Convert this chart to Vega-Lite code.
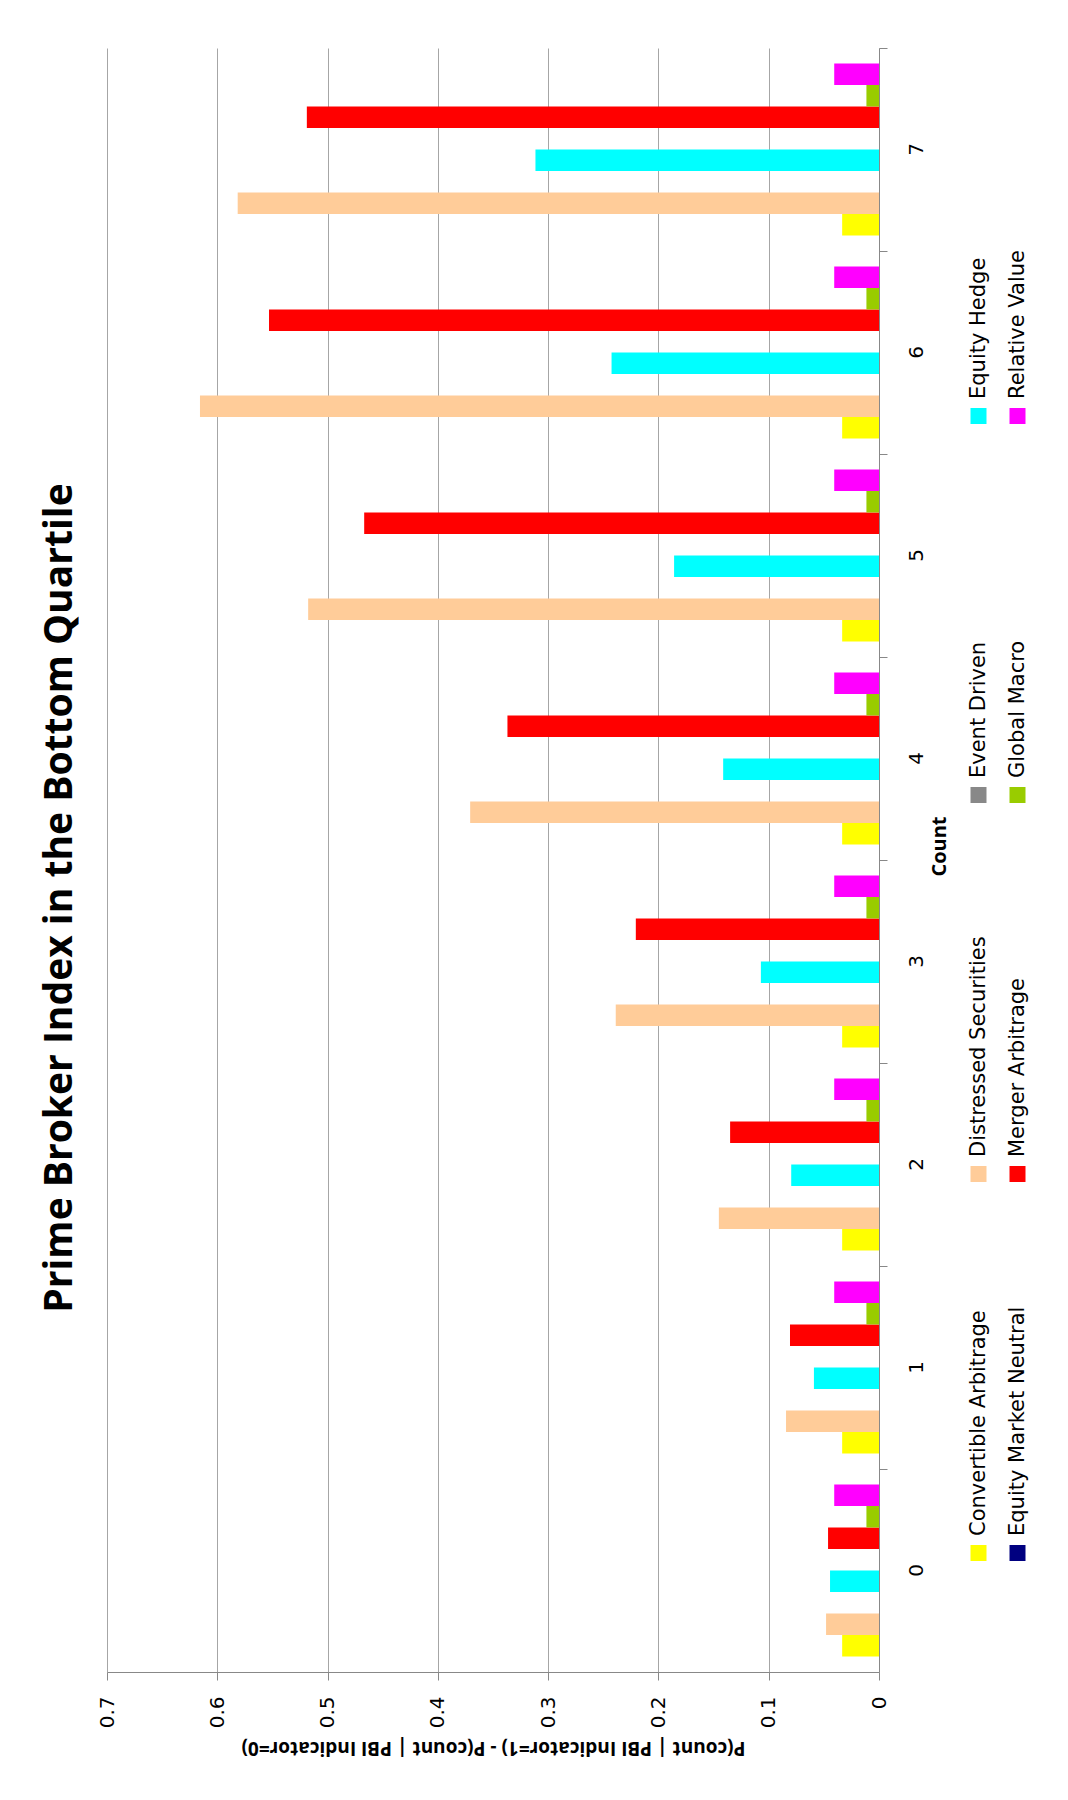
{
  "$schema": "https://vega.github.io/schema/vega-lite/v6.json",
  "background": "white",
  "padding": {"left": 40, "top": 47, "right": 0, "bottom": 0},
  "spacing": 10,
  "config": {"view": {"stroke": null}, "font": "DejaVu Sans"},
  "datasets": {
    "bars": [
      {"Count": 0, "series": "Convertible Arbitrage", "value": 0.0334},
      {"Count": 0, "series": "Distressed Securities", "value": 0.048},
      {"Count": 0, "series": "Event Driven", "value": 0},
      {"Count": 0, "series": "Equity Hedge", "value": 0.0444},
      {"Count": 0, "series": "Equity Market Neutral", "value": 0},
      {"Count": 0, "series": "Merger Arbitrage", "value": 0.0462},
      {"Count": 0, "series": "Global Macro", "value": 0.0114},
      {"Count": 0, "series": "Relative Value", "value": 0.0406},
      {"Count": 1, "series": "Convertible Arbitrage", "value": 0.0334},
      {"Count": 1, "series": "Distressed Securities", "value": 0.0843},
      {"Count": 1, "series": "Event Driven", "value": 0},
      {"Count": 1, "series": "Equity Hedge", "value": 0.059},
      {"Count": 1, "series": "Equity Market Neutral", "value": 0},
      {"Count": 1, "series": "Merger Arbitrage", "value": 0.0807},
      {"Count": 1, "series": "Global Macro", "value": 0.0114},
      {"Count": 1, "series": "Relative Value", "value": 0.0406},
      {"Count": 2, "series": "Convertible Arbitrage", "value": 0.0334},
      {"Count": 2, "series": "Distressed Securities", "value": 0.1452},
      {"Count": 2, "series": "Event Driven", "value": 0},
      {"Count": 2, "series": "Equity Hedge", "value": 0.0796},
      {"Count": 2, "series": "Equity Market Neutral", "value": 0},
      {"Count": 2, "series": "Merger Arbitrage", "value": 0.135},
      {"Count": 2, "series": "Global Macro", "value": 0.0114},
      {"Count": 2, "series": "Relative Value", "value": 0.0406},
      {"Count": 3, "series": "Convertible Arbitrage", "value": 0.0334},
      {"Count": 3, "series": "Distressed Securities", "value": 0.2387},
      {"Count": 3, "series": "Event Driven", "value": 0},
      {"Count": 3, "series": "Equity Hedge", "value": 0.1071},
      {"Count": 3, "series": "Equity Market Neutral", "value": 0},
      {"Count": 3, "series": "Merger Arbitrage", "value": 0.2205},
      {"Count": 3, "series": "Global Macro", "value": 0.0114},
      {"Count": 3, "series": "Relative Value", "value": 0.0406},
      {"Count": 4, "series": "Convertible Arbitrage", "value": 0.0334},
      {"Count": 4, "series": "Distressed Securities", "value": 0.3707},
      {"Count": 4, "series": "Event Driven", "value": 0},
      {"Count": 4, "series": "Equity Hedge", "value": 0.1413},
      {"Count": 4, "series": "Equity Market Neutral", "value": 0},
      {"Count": 4, "series": "Merger Arbitrage", "value": 0.3369},
      {"Count": 4, "series": "Global Macro", "value": 0.0114},
      {"Count": 4, "series": "Relative Value", "value": 0.0406},
      {"Count": 5, "series": "Convertible Arbitrage", "value": 0.0334},
      {"Count": 5, "series": "Distressed Securities", "value": 0.5176},
      {"Count": 5, "series": "Event Driven", "value": 0},
      {"Count": 5, "series": "Equity Hedge", "value": 0.1858},
      {"Count": 5, "series": "Equity Market Neutral", "value": 0},
      {"Count": 5, "series": "Merger Arbitrage", "value": 0.4668},
      {"Count": 5, "series": "Global Macro", "value": 0.0114},
      {"Count": 5, "series": "Relative Value", "value": 0.0406},
      {"Count": 6, "series": "Convertible Arbitrage", "value": 0.0334},
      {"Count": 6, "series": "Distressed Securities", "value": 0.6157},
      {"Count": 6, "series": "Event Driven", "value": 0},
      {"Count": 6, "series": "Equity Hedge", "value": 0.2425},
      {"Count": 6, "series": "Equity Market Neutral", "value": 0},
      {"Count": 6, "series": "Merger Arbitrage", "value": 0.5531},
      {"Count": 6, "series": "Global Macro", "value": 0.0114},
      {"Count": 6, "series": "Relative Value", "value": 0.0406},
      {"Count": 7, "series": "Convertible Arbitrage", "value": 0.0334},
      {"Count": 7, "series": "Distressed Securities", "value": 0.5815},
      {"Count": 7, "series": "Event Driven", "value": 0},
      {"Count": 7, "series": "Equity Hedge", "value": 0.3115},
      {"Count": 7, "series": "Equity Market Neutral", "value": 0},
      {"Count": 7, "series": "Merger Arbitrage", "value": 0.5188},
      {"Count": 7, "series": "Global Macro", "value": 0.0114},
      {"Count": 7, "series": "Relative Value", "value": 0.0406}
    ],
    "legend": [
      {"series": "Convertible Arbitrage", "col": 0, "row": 0},
      {"series": "Distressed Securities", "col": 0, "row": 1},
      {"series": "Event Driven", "col": 0, "row": 2},
      {"series": "Equity Hedge", "col": 0, "row": 3},
      {"series": "Equity Market Neutral", "col": 1, "row": 0},
      {"series": "Merger Arbitrage", "col": 1, "row": 1},
      {"series": "Global Macro", "col": 1, "row": 2},
      {"series": "Relative Value", "col": 1, "row": 3}
    ]
  },
  "hconcat": [
    {
      "width": 772,
      "height": 1624,
      "title": {
        "text": "Prime Broker Index in the Bottom Quartile",
        "orient": "left",
        "anchor": "middle",
        "font": "Open Sans",
        "fontWeight": "bold",
        "fontSize": 39,
        "color": "black",
        "offset": 17,
        "dx": -38
      },
      "data": {"name": "bars"},
      "mark": {"type": "bar"},
      "encoding": {
        "y": {
          "field": "Count",
          "type": "ordinal",
          "sort": "descending",
          "scale": {"paddingInner": 0, "paddingOuter": 0},
          "axis": {
            "orient": "right",
            "bandPosition": 0,
            "labelAngle": -90,
            "labelAlign": "center",
            "labelBaseline": "top",
            "labelFont": "DejaVu Sans",
            "labelFontSize": 20,
            "labelColor": "black",
            "labelPadding": 19,
            "tickSize": 8,
            "tickColor": "#888888",
            "domainColor": "#888888",
            "grid": false,
            "title": "Count",
            "titleAngle": -90,
            "titleBaseline": "top",
            "titleFont": "Open Sans",
            "titleFontWeight": "bold",
            "titleFontSize": 20,
            "titleColor": "black",
            "titlePadding": 3,
            "titleY": 798
          }
        },
        "yOffset": {
          "field": "series",
          "sort": ["Relative Value", "Global Macro", "Merger Arbitrage", "Equity Market Neutral", "Equity Hedge", "Event Driven", "Distressed Securities", "Convertible Arbitrage"],
          "scale": {"paddingInner": 0, "paddingOuter": 0.72}
        },
        "x": {
          "field": "value",
          "type": "quantitative",
          "scale": {"domain": [0, 0.7], "reverse": true, "nice": false},
          "axis": {
            "orient": "bottom",
            "values": [0, 0.1, 0.2, 0.3, 0.4, 0.5, 0.6, 0.7],
            "format": ".1~f",
            "labelAngle": -90,
            "labelAlign": "right",
            "labelBaseline": "middle",
            "labelFont": "DejaVu Sans",
            "labelFontSize": 20,
            "labelColor": "black",
            "labelPadding": 16,
            "tickSize": 8,
            "tickColor": "#888888",
            "domainColor": "#888888",
            "grid": true,
            "gridColor": "#a6a6a6",
            "title": "P(count | PBI Indicator=1)  - P(count | PBI Indicator=0)",
            "titleAngle": 180,
            "titleBaseline": "bottom",
            "titleFont": "Open Sans",
            "titleFontWeight": "bold",
            "titleFontSize": 19,
            "titleColor": "black",
            "titlePadding": 10
          }
        },
        "color": {
          "field": "series",
          "type": "nominal",
          "scale": {
            "domain": ["Convertible Arbitrage", "Distressed Securities", "Event Driven", "Equity Hedge", "Equity Market Neutral", "Merger Arbitrage", "Global Macro", "Relative Value"],
            "range": ["#FFFF00", "#FFCC99", "#888888", "#00FFFF", "#000080", "#FF0000", "#99CC00", "#FF00FF"]
          },
          "legend": null
        }
      }
    },
    {
      "width": 78,
      "height": 1624,
      "data": {"name": "legend"},
      "encoding": {
        "x": {"field": "col", "type": "quantitative", "scale": {"domain": [-0.5, 1.5]}, "axis": null},
        "y": {"field": "row", "type": "quantitative", "scale": {"domain": [-0.314, 3.971], "nice": false, "zero": false}, "axis": null}
      },
      "layer": [
        {
          "mark": {"type": "point", "shape": "square", "filled": true, "size": 256, "opacity": 1, "strokeWidth": 0},
          "encoding": {
            "color": {"field": "series", "type": "nominal", "legend": null}
          }
        },
        {
          "mark": {"type": "text", "angle": -90, "align": "left", "baseline": "middle", "dx": 17, "font": "DejaVu Sans", "fontSize": 21, "color": "black"},
          "encoding": {
            "text": {"field": "series"}
          }
        }
      ]
    }
  ]
}
